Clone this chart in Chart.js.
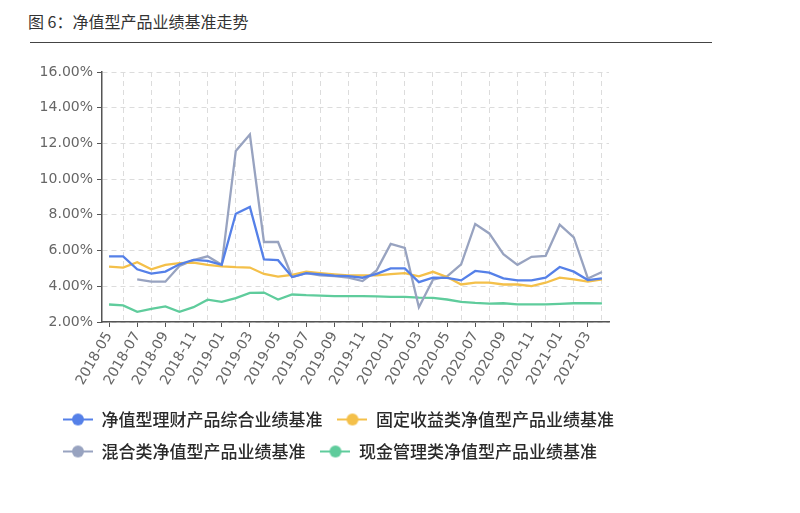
<!DOCTYPE html>
<html><head><meta charset="utf-8">
<script src="https://cdn.jsdelivr.net/npm/chart.js@4/dist/chart.umd.min.js"></script>
<style>
html,body{margin:0;padding:0;background:#fff;width:800px;height:513px;overflow:hidden;}
#title{position:absolute;left:28px;top:9px;font:16px "Noto Sans CJK SC";color:#333;white-space:nowrap;}
#rule{position:absolute;left:30px;top:42px;width:682px;height:0;border-top:1.5px solid #444;}
#wrap{position:absolute;left:0;top:0;width:720px;height:513px;}
</style></head><body>
<div id="title">图 6：净值型产品业绩基准走势</div>
<div id="rule"></div>
<div id="wrap"><canvas id="c"></canvas></div>
<script>
const months = ['2018-05','2018-06','2018-07','2018-08','2018-09','2018-10','2018-11','2018-12',
  '2019-01','2019-02','2019-03','2019-04','2019-05','2019-06','2019-07','2019-08','2019-09','2019-10','2019-11','2019-12',
  '2020-01','2020-02','2020-03','2020-04','2020-05','2020-06','2020-07','2020-08','2020-09','2020-10','2020-11','2020-12',
  '2021-01','2021-02','2021-03','2021-04'];
const seriesNames = ['净值型理财产品综合业绩基准','固定收益类净值型产品业绩基准','混合类净值型产品业绩基准','现金管理类净值型产品业绩基准'];
const composite = [5.67,5.67,4.95,4.71,4.82,5.23,5.48,5.42,5.20,8.06,8.44,5.51,5.46,4.52,4.74,4.67,4.60,4.57,4.48,4.70,
  5.00,5.00,4.23,4.48,4.47,4.33,4.86,4.76,4.44,4.33,4.33,4.48,5.08,4.82,4.35,4.44];
const fixedIncome = [5.10,5.05,5.35,4.95,5.20,5.30,5.33,5.20,5.12,5.07,5.05,4.69,4.54,4.64,4.82,4.74,4.67,4.61,4.61,4.61,
  4.68,4.74,4.56,4.81,4.52,4.10,4.20,4.20,4.10,4.10,4.01,4.20,4.48,4.39,4.26,4.39];
const mixed = [null,null,4.39,4.26,4.26,5.14,5.46,5.68,5.20,11.58,12.5,6.48,6.48,4.52,4.74,4.61,4.57,4.48,4.29,4.89,
  6.37,6.15,2.83,4.37,4.55,5.23,7.49,6.96,5.80,5.20,5.65,5.70,7.45,6.74,4.44,4.80];
const cash = [2.98,2.93,2.57,2.74,2.87,2.57,2.83,3.25,3.13,3.34,3.63,3.65,3.26,3.54,3.50,3.48,3.45,3.45,3.45,3.43,
  3.41,3.41,3.36,3.35,3.26,3.13,3.07,3.03,3.05,2.99,2.99,2.99,3.02,3.05,3.05,3.04];
const yTicks = [2,4,6,8,10,12,14,16];

const colors = ['#5580e8','#f4c04a','#98a3c0','#5fcc9c'];
function makeIcon(col){
  const cv = document.createElement('canvas'); cv.width = 30; cv.height = 14;
  const g = cv.getContext('2d');
  g.strokeStyle = col; g.lineWidth = 2; g.beginPath(); g.moveTo(0,7); g.lineTo(30,7); g.stroke();
  g.fillStyle = col; g.beginPath(); g.arc(15,7,6,0,Math.PI*2); g.fill();
  return cv;
}
const icons = colors.map(makeIcon);
const dataArrays = [composite, fixedIncome, mixed, cash];

new Chart(document.getElementById('c'), {
  type: 'line',
  data: {
    labels: months,
    datasets: dataArrays.map((d,i)=>({label: seriesNames[i], data: d, borderColor: colors[i], backgroundColor: colors[i],
      borderWidth: 2.3, pointRadius: 0, tension: 0, fill: false, spanGaps: false}))
  },
  plugins: [{id: 'legendShift', afterLayout(chart){ chart.legend.left += 18; }}],
  options: {
    responsive: true, maintainAspectRatio: false, animation: false,
    layout: {padding: {left: 30, right: 0, top: 72, bottom: 43}},
    plugins: {
      tooltip: {enabled: false},
      legend: {
        position: 'bottom', align: 'start',
        labels: {
          usePointStyle: true, pointStyleWidth: 30, padding: 15, color: '#2a2a2a',
          font: {family: '"Noto Sans CJK SC"', size: 17, weight: '500'},
          generateLabels(chart){
            const items = Chart.defaults.plugins.legend.labels.generateLabels(chart);
            items.forEach((it,i)=>{ it.pointStyle = icons[i]; });
            return items;
          }
        }
      }
    },
    scales: {
      x: {
        offset: true,
        grid: {offset: false, lineWidth: 1, color: c => (c.index % 2 === 1 ? '#dcdcdc' : 'rgba(0,0,0,0)'),
          tickColor: c => (c.index % 2 === 0 ? '#555' : 'rgba(0,0,0,0)'), tickLength: 5},
        border: {display: true, color: '#555', width: 1.5, dash: [5,4]},
        ticks: {autoSkip: false, maxRotation: 60, minRotation: 60, padding: 2, color: '#666',
          font: {family: '"DejaVu Sans"', size: 14},
          callback: function(v, i){ return i % 2 === 0 ? this.getLabelForValue(v) : ''; }},
        afterFit: s => { s.height = 74; }
      },
      y: {
        min: 2, max: 16,
        grid: {color: '#dcdcdc', tickColor: '#555', tickLength: 5},
        border: {display: true, color: '#555', width: 1.5, dash: [5,4]},
        afterBuildTicks: s => { s.ticks = yTicks.map(v => ({value: v})); },
        ticks: {color: '#666', padding: 4, font: {family: '"DejaVu Sans"', size: 14},
          callback: v => v.toFixed(2) + '%'},
        afterFit: s => { s.width = 72; }
      },
      y2: {
        position: 'right', display: true,
        grid: {display: false}, ticks: {display: false}, border: {display: false},
        afterFit: s => { s.width = 111; }
      }
    }
  }
});
</script>
</body></html>
